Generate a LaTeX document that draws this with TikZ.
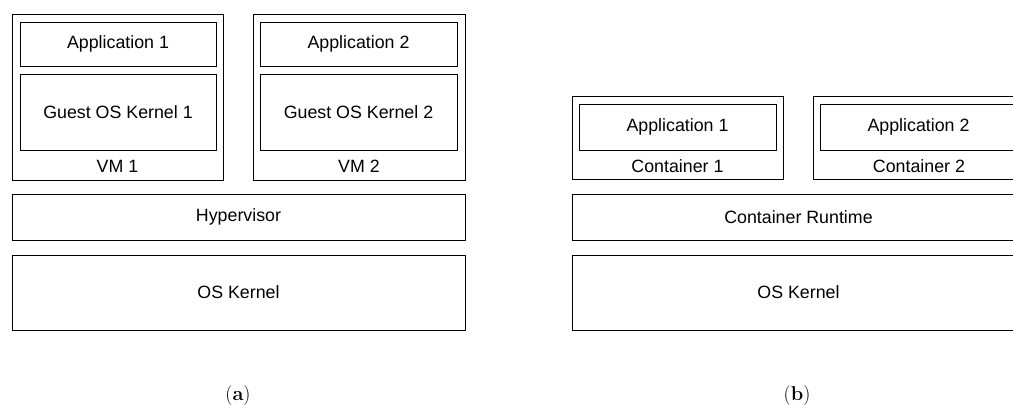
\documentclass[tikz,border=0pt]{standalone}
\usepackage{fontspec}
\newfontfamily\boxfont{Liberation Sans}
\begin{document}
\begin{tikzpicture}[x=1pt,y=-1pt,
  box/.style={draw, line width=1pt, rectangle, inner sep=0pt, font=\boxfont\fontsize{17.8}{20}\selectfont},
  lbl/.style={inner sep=0pt, font=\boxfont\fontsize{17.8}{20}\selectfont},
  subcap/.style={inner sep=0pt, font=\fontsize{20}{22}\selectfont}]
\clip (0,0) rectangle (1013,405);

% (a) virtual machines
\node[box, minimum width=211, minimum height=166] (vm1) at (117.5,97) {};
\node[box, minimum width=196, minimum height=44] (app1a) at (118,44) {Application 1};
\node[box, minimum width=196, minimum height=76] (guest1) at (118,112) {Guest OS Kernel 1};
\node[lbl] (vm1l) at (117.5,166) {VM 1};

\node[box, minimum width=212, minimum height=166] (vm2) at (359,97) {};
\node[box, minimum width=197, minimum height=44] (app2a) at (358.5,44) {Application 2};
\node[box, minimum width=197, minimum height=76] (guest2) at (358.5,112) {Guest OS Kernel 2};
\node[lbl] (vm2l) at (359,166) {VM 2};

\node[box, minimum width=453, minimum height=46] (hyp) at (238.5,217) {Hypervisor};
\node[box, minimum width=453, minimum height=75] (ka) at (238.5,292.5) {OS Kernel};

% (b) containers
\node[box, minimum width=211, minimum height=83] (c1) at (677.5,137.5) {};
\node[box, minimum width=197, minimum height=46] (app1b) at (677.5,127) {Application 1};
\node[lbl] (c1l) at (677.5,166) {Container 1};

\node[box, minimum width=212, minimum height=83] (c2) at (919,137.5) {};
\node[box, minimum width=197, minimum height=46] (app2b) at (918.5,127) {Application 2};
\node[lbl] (c2l) at (919,166) {Container 2};

\node[box, minimum width=453, minimum height=46] (rt) at (798.5,217) {Container Runtime};
\node[box, minimum width=453, minimum height=75] (kb) at (798.5,292.5) {OS Kernel};

% captions
\node[subcap] (capa) at (238,396) {(\textbf{a})};
\node[subcap] (capb) at (797,396) {(\textbf{b})};
\end{tikzpicture}
\end{document}
